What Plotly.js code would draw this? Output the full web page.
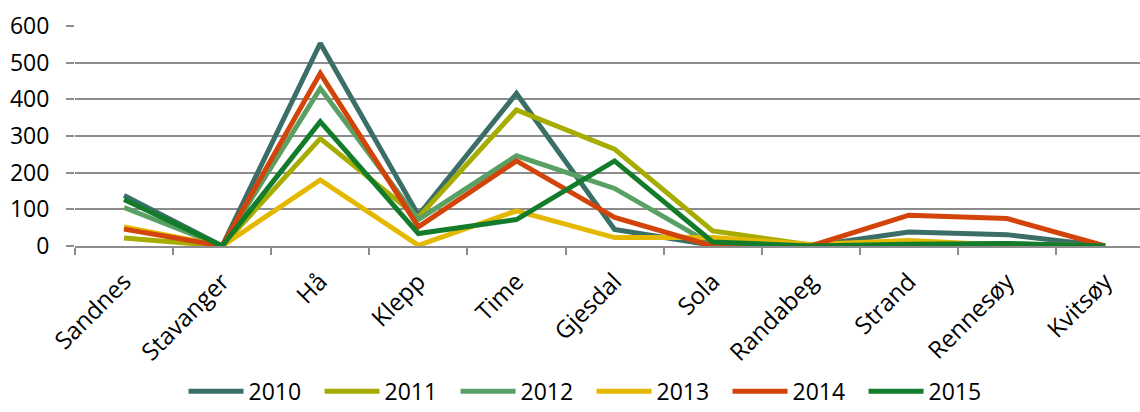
<!DOCTYPE html>
<html>
<head>
<meta charset="utf-8">
<script src="https://cdn.plot.ly/plotly-3.0.1.min.js"></script>
<style>html,body{margin:0;padding:0;background:#fff;}#chart{width:1140px;height:412px;}</style>
</head>
<body>
<div id="chart"></div>
<script>
const categories = ["Sandnes","Stavanger","Hå","Klepp","Time","Gjesdal","Sola","Randabeg","Strand","Rennesøy","Kvitsøy"];
const seriesNames = ["2010","2011","2012","2013","2014","2015"];
const v2010 = [138, 0, 553, 84, 416, 45, 2, 0, 38, 31, 0];
const v2011 = [22, 0, 293, 78, 371, 264, 41, 3, 3, 5, 0];
const v2012 = [105, 0, 430, 72, 246, 157, 3, 0, 5, 6, 0];
const v2013 = [52, 0, 180, 2, 96, 23, 23, 4, 15, 2, 0];
const v2014 = [46, 0, 471, 52, 232, 78, 0, 0, 84, 75, 0];
const v2015 = [127, 0, 339, 34, 72, 232, 11, 0, 5, 7, 0];
const seriesValues = [v2010, v2011, v2012, v2013, v2014, v2015];
const colors = ["#3A6E66","#A7AD00","#5AA064","#E5B800","#D2440A","#137C2A"];

const font = "Open Sans, sans-serif";
const traces = seriesNames.map((n, i) => ({
  type: "scatter", mode: "lines", name: n,
  x: categories, y: seriesValues[i],
  line: {color: colors[i], width: 5, shape: "linear"}
}));

const layout = {
  width: 1140, height: 412,
  margin: {l: 75, r: 0, t: 26, b: 166, autoexpand: false},
  paper_bgcolor: "#fff", plot_bgcolor: "#fff",
  font: {family: font, size: 22, color: "#000"},
  showlegend: true,
  legend: {orientation: "h", xref: "container", yref: "container",
           x: 0.161, xanchor: "left", y: 0.05, yanchor: "middle",
           bgcolor: "rgba(0,0,0,0)",
           font: {family: font, size: 23, color: "#000"},
           entrywidth: 66, entrywidthmode: "pixels", itemwidth: 55, tracegroupgap: 0},
  xaxis: {
    type: "category", range: [-0.5, 10.356], tickangle: -45, automargin: false,
    tickson: "boundaries", ticks: "outside", ticklen: 7, tickwidth: 2, tickcolor: "#8c8c8c",
    ticklabelstandoff: 10,
    showline: true, linecolor: "#8c8c8c", linewidth: 2, showgrid: false, zeroline: false,
    tickfont: {family: font, size: 24, color: "#000"}
  },
  yaxis: {
    range: [0, 600], dtick: 100, tick0: 0, ticks: "outside", ticklen: 8, tickwidth: 2, tickcolor: "#8c8c8c",
    ticklabelstandoff: 12,
    showgrid: true, gridcolor: "#8c8c8c", gridwidth: 2, showline: false, zeroline: false, automargin: false,
    tickfont: {family: font, size: 23, color: "#000"}
  }
};
Plotly.newPlot("chart", traces, layout, {staticPlot: true, displayModeBar: false});
</script>
</body>
</html>
